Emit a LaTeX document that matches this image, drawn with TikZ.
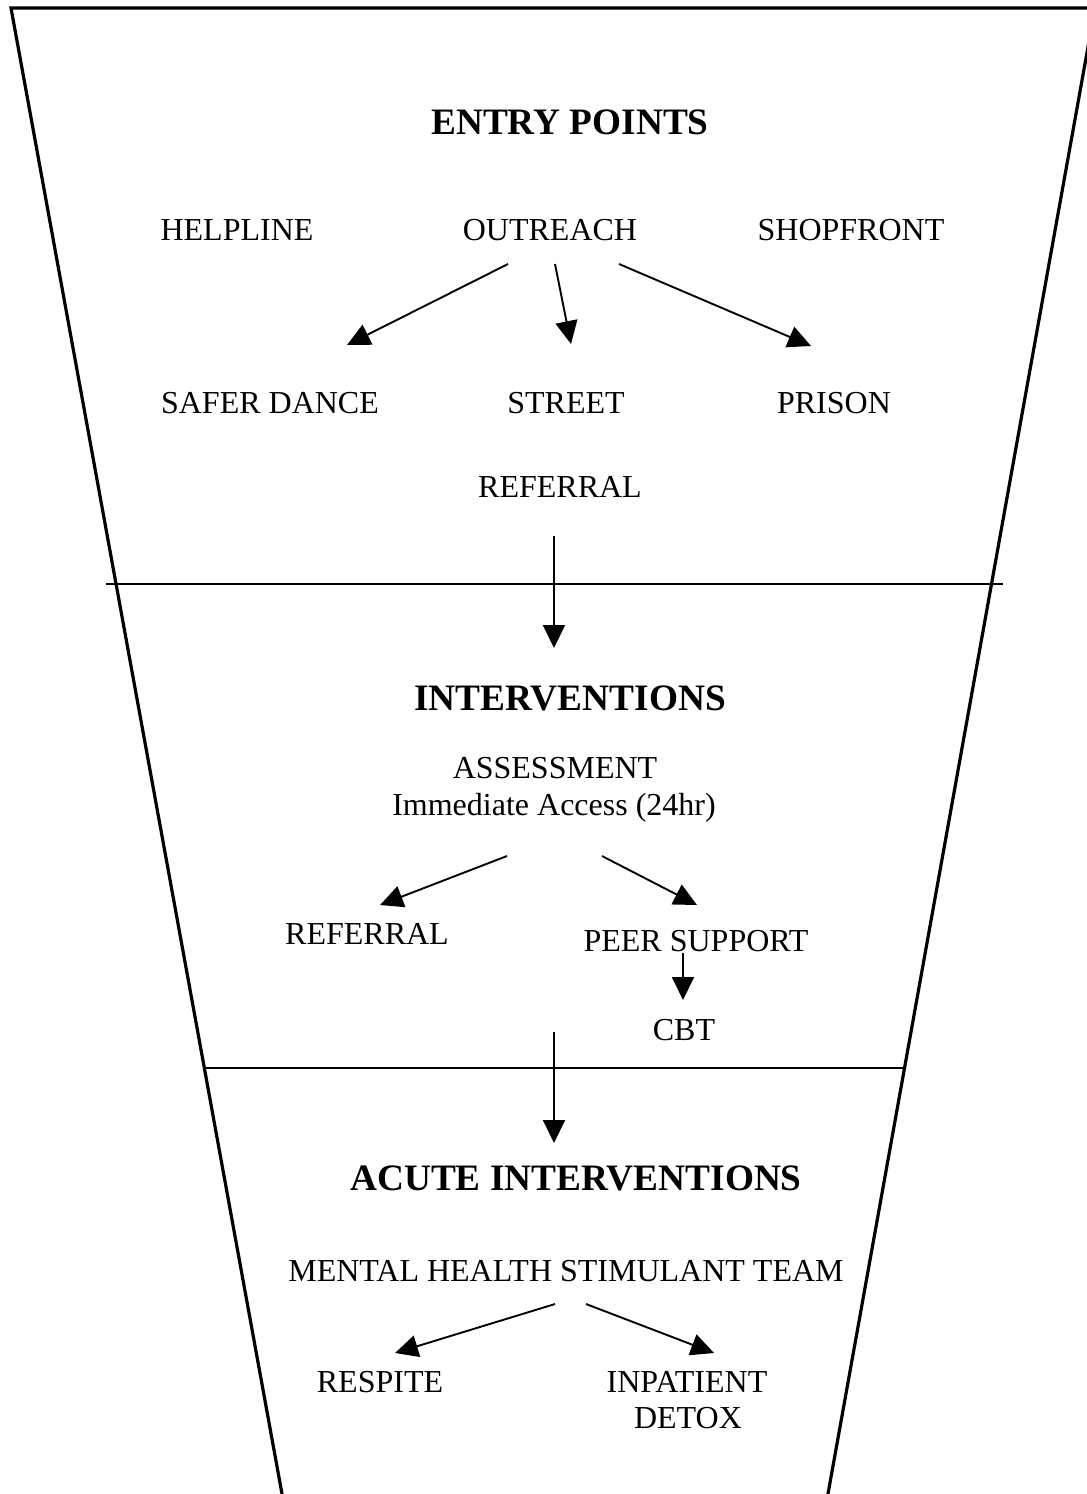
\documentclass[tikz,border=0pt]{standalone}
\usepackage{fontspec}
\setmainfont{Liberation Serif}
\usetikzlibrary{arrows.meta}
\begin{document}
\begin{tikzpicture}[x=1pt,y=-1pt,
  lbl/.style={anchor=base,inner sep=0pt,font=\fontsize{32}{36.8}\selectfont},
  hdr/.style={anchor=base,inner sep=0pt,font=\fontsize{37.3}{43}\selectfont\bfseries},
  funnel/.style={line width=3.2pt,line join=miter},
  divider/.style={line width=1.8pt},
  arr/.style={line width=1.9pt,-{Triangle[length=23pt,width=22pt]}}]
\useasboundingbox (0,0) rectangle (1087,1494);
\clip (0,0) rectangle (1087,1494);
% funnel outline
\draw[funnel] (282.4,1496) -- (11,8) -- (1095,8) -- (827.6,1496);
% dividers
\draw[divider] (106,584) -- (1003,584);
\draw[divider] (203,1068) -- (906,1068);

% texts
\node[hdr] (entry) at (570,134) {ENTRY POINTS};
\node[lbl] (helpline) at (237,240) {HELPLINE};
\node[lbl] (outreach) at (550,240) {OUTREACH};
\node[lbl] (shopfront) at (851,240) {SHOPFRONT};
\node[lbl] (safer) at (270,413) {SAFER DANCE};
\node[lbl] (street) at (566,413) {STREET};
\node[lbl] (prison) at (834,413) {PRISON};
\node[lbl] (referral) at (560,497) {REFERRAL};

\node[hdr] (interv) at (570,710) {INTERVENTIONS};
\node[lbl] (assess) at (555,778) {ASSESSMENT};
\node[lbl] (immed) at (554,815) {Immediate Access (24hr)};
\node[lbl] (referral2) at (367,944) {REFERRAL};
\node[lbl] (peer) at (696,951) {PEER SUPPORT};
\node[lbl] (cbt) at (684,1040) {CBT};

\node[hdr] (acute) at (576,1190) {ACUTE INTERVENTIONS};
\node[lbl] (mhst) at (566,1281) {MENTAL HEALTH STIMULANT TEAM};
\node[lbl] (respite) at (380,1392) {RESPITE};
\node[lbl] (inpatient) at (687,1392) {INPATIENT};
\node[lbl] (detox) at (688,1428) {DETOX};

% arrow end points
\coordinate (o1s) at (508,264);  \coordinate (o1e) at (347,345);
\coordinate (o2s) at (555,264);  \coordinate (o2e) at (571,344);
\coordinate (o3s) at (619,264);  \coordinate (o3e) at (811,346);
\coordinate (r1s) at (554,536);  \coordinate (r1e) at (554,648);
\coordinate (a1s) at (507,856);  \coordinate (a1e) at (380,905);
\coordinate (a2s) at (602,856);  \coordinate (a2e) at (697,905);
\coordinate (p1s) at (683,953);  \coordinate (p1e) at (683,1000);
\coordinate (c1s) at (554,1032); \coordinate (c1e) at (554,1143);
\coordinate (m1s) at (555,1304); \coordinate (m1e) at (395,1353);
\coordinate (m2s) at (586,1304); \coordinate (m2e) at (714,1353);

\draw[arr] (o1s) -- (o1e);
\draw[arr] (o2s) -- (o2e);
\draw[arr] (o3s) -- (o3e);
\draw[arr] (r1s) -- (r1e);
\draw[arr] (a1s) -- (a1e);
\draw[arr] (a2s) -- (a2e);
\draw[arr] (p1s) -- (p1e);
\draw[arr] (c1s) -- (c1e);
\draw[arr] (m1s) -- (m1e);
\draw[arr] (m2s) -- (m2e);
\end{tikzpicture}
\end{document}
